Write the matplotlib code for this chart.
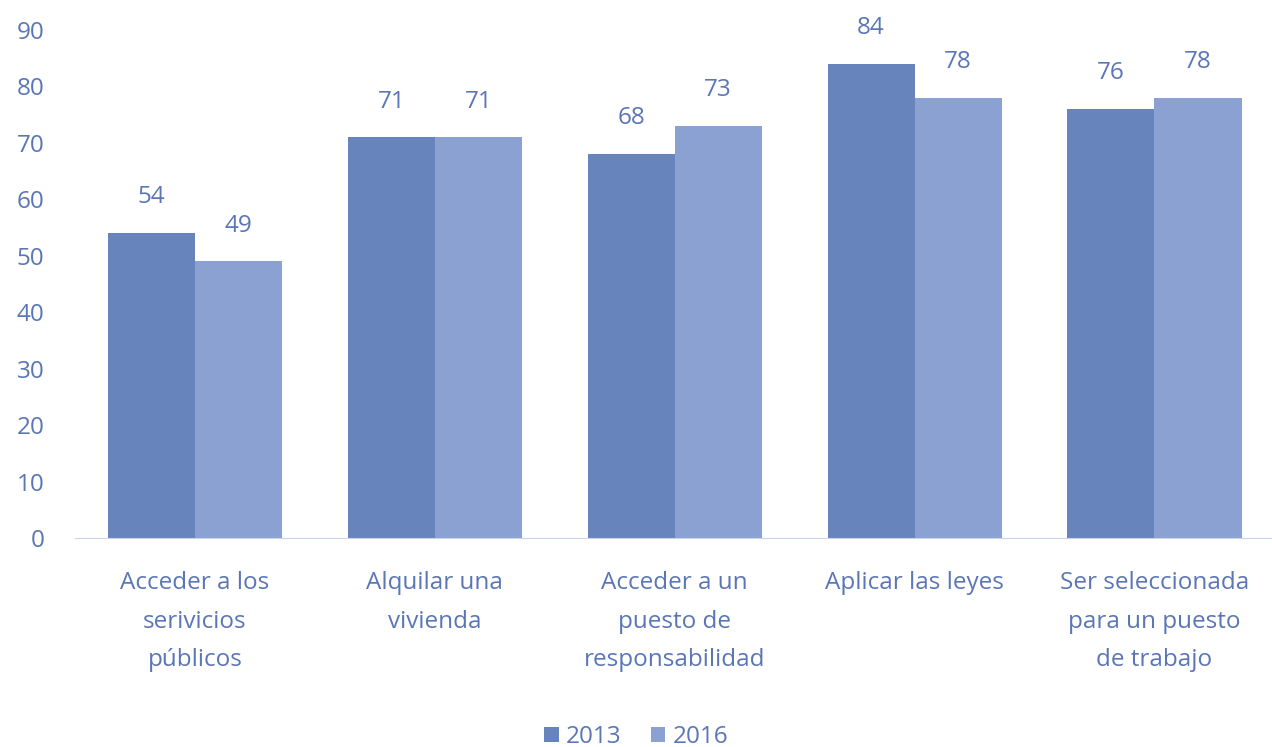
import numpy as np
import matplotlib
matplotlib.use("Agg")
from matplotlib import pyplot as plt

categories = ["Acceder a los\nserivicios\npúblicos", "Alquilar una\nvivienda",
              "Acceder a un\npuesto de\nresponsabilidad", "Aplicar las leyes",
              "Ser seleccionada\npara un puesto\nde trabajo"]
vals_2013 = [54, 71, 68, 84, 76]
vals_2016 = [49, 71, 73, 78, 78]
years = ["2013", "2016"]

c2013 = "#6884bd"
c2016 = "#8aa1d1"
txt = "#5a76b6"

plt.rcParams["font.family"] = ["Open Sans", "DejaVu Sans"]

W, H = 1272, 747
fig = plt.figure(figsize=(W / 100, H / 100), dpi=100)
ax = fig.add_axes([75 / W, 1 - 538 / H, 1197 / W, (538 - 30) / H])

x = np.arange(len(categories))
bw = 0.363
ax.bar(x - bw / 2, vals_2013, bw, color=c2013, label=years[0])
ax.bar(x + bw / 2, vals_2016, bw, color=c2016, label=years[1])

for xi, v in zip(x - bw / 2, vals_2013):
    ax.text(xi, v + 4.2, str(v), ha="center", va="bottom", color=txt, fontsize=17.5)
for xi, v in zip(x + bw / 2, vals_2016):
    ax.text(xi, v + 4.2, str(v), ha="center", va="bottom", color=txt, fontsize=17.5)

ax.set_xlim(-0.5, 4.49)
ax.set_ylim(0, 90)
ax.set_yticks(range(0, 91, 10))
ax.set_xticks(x)
ax.set_xticklabels(categories, linespacing=1.8)
ax.tick_params(axis="both", length=0, colors=txt, labelsize=17.5)
ax.tick_params(axis="y", pad=22)
ax.tick_params(axis="x", pad=24)
for s in ["top", "right", "left"]:
    ax.spines[s].set_visible(False)
ax.spines["bottom"].set_color("#c9d3ea")

leg = fig.legend(loc="lower center", bbox_to_anchor=(0.5, -0.032), ncol=2, frameon=False,
                 fontsize=17.5, handlelength=0.6, handleheight=0.6, handletextpad=0.3,
                 columnspacing=1.2)
for t in leg.get_texts():
    t.set_color(txt)

fig.savefig("out.png", dpi=100)
